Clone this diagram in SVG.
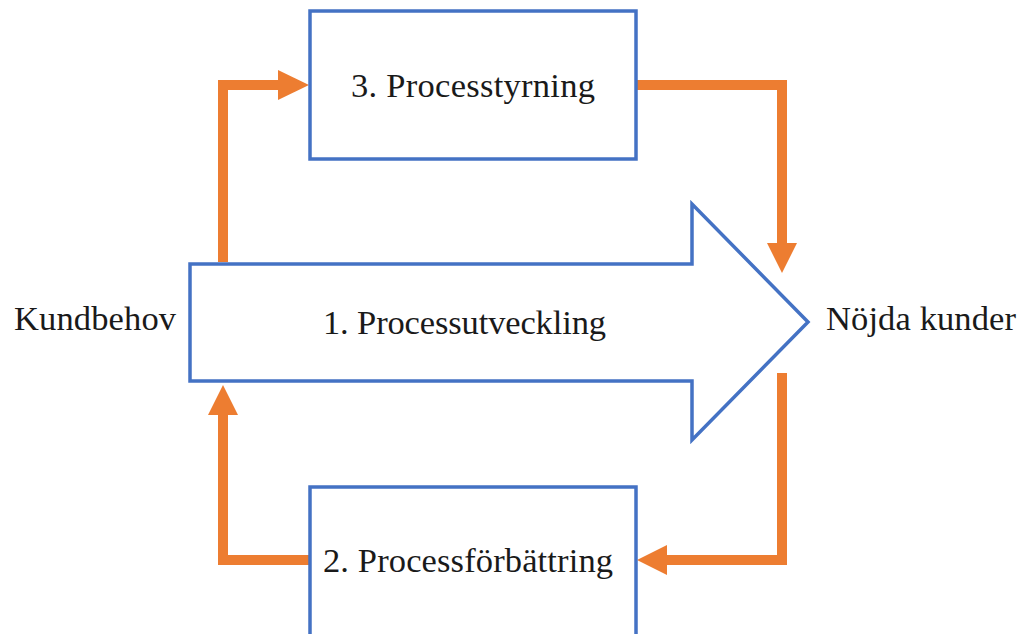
<svg xmlns="http://www.w3.org/2000/svg" width="1019" height="634" viewBox="0 0 1019 634">
  <style>
    .box { fill: #ffffff; stroke: #4472C4; stroke-width: 3.5; }
    .flow { fill: none; stroke: #ED7D31; stroke-width: 10; stroke-linejoin: miter; }
    .head { fill: #ED7D31; }
    .label { font-family: "Liberation Serif", "DejaVu Serif", serif; font-size: 34.5px; fill: #1a1a1a; }
  </style>
  <rect width="1019" height="634" fill="#ffffff"/>

  <!-- feedback and control loops -->
  <g id="connectors">
    <!-- into 3. Processtyrning -->
    <polyline class="flow" points="223,262 223,85 280,85"/>
    <polygon class="head" points="278,70 309,85 278,100"/>
    <!-- out of 3. Processtyrning -->
    <polyline class="flow" points="637,85 782,85 782,245"/>
    <polygon class="head" points="767,243 797,243 782,273"/>
    <!-- into 2. Processförbättring -->
    <polyline class="flow" points="782,373 782,560 665,560"/>
    <polygon class="head" points="667,545 667,575 637,560"/>
    <!-- out of 2. Processförbättring -->
    <polyline class="flow" points="310,560 223,560 223,413"/>
    <polygon class="head" points="208,415 238,415 223,385"/>
  </g>

  <g id="node-processutveckling">
    <polygon class="box" points="190,264 692,264 692,204 808,322 692,440 692,381 190,381"/>
    <text class="label" x="323" y="334" textLength="283" lengthAdjust="spacing">1. Processutveckling</text>
  </g>

  <g id="node-processtyrning">
    <rect class="box" x="310" y="11" width="326" height="148"/>
    <text class="label" x="351" y="97" textLength="244" lengthAdjust="spacing">3. Processtyrning</text>
  </g>

  <g id="node-processforbattring">
    <rect class="box" x="310" y="487" width="326" height="150"/>
    <text class="label" x="323" y="572" textLength="290" lengthAdjust="spacing">2. Processförbättring</text>
  </g>

  <g id="node-kundbehov">
    <text class="label" x="14" y="330" textLength="162" lengthAdjust="spacing">Kundbehov</text>
  </g>

  <g id="node-nojda-kunder">
    <text class="label" x="826" y="330" textLength="190" lengthAdjust="spacing">Nöjda kunder</text>
  </g>
</svg>
